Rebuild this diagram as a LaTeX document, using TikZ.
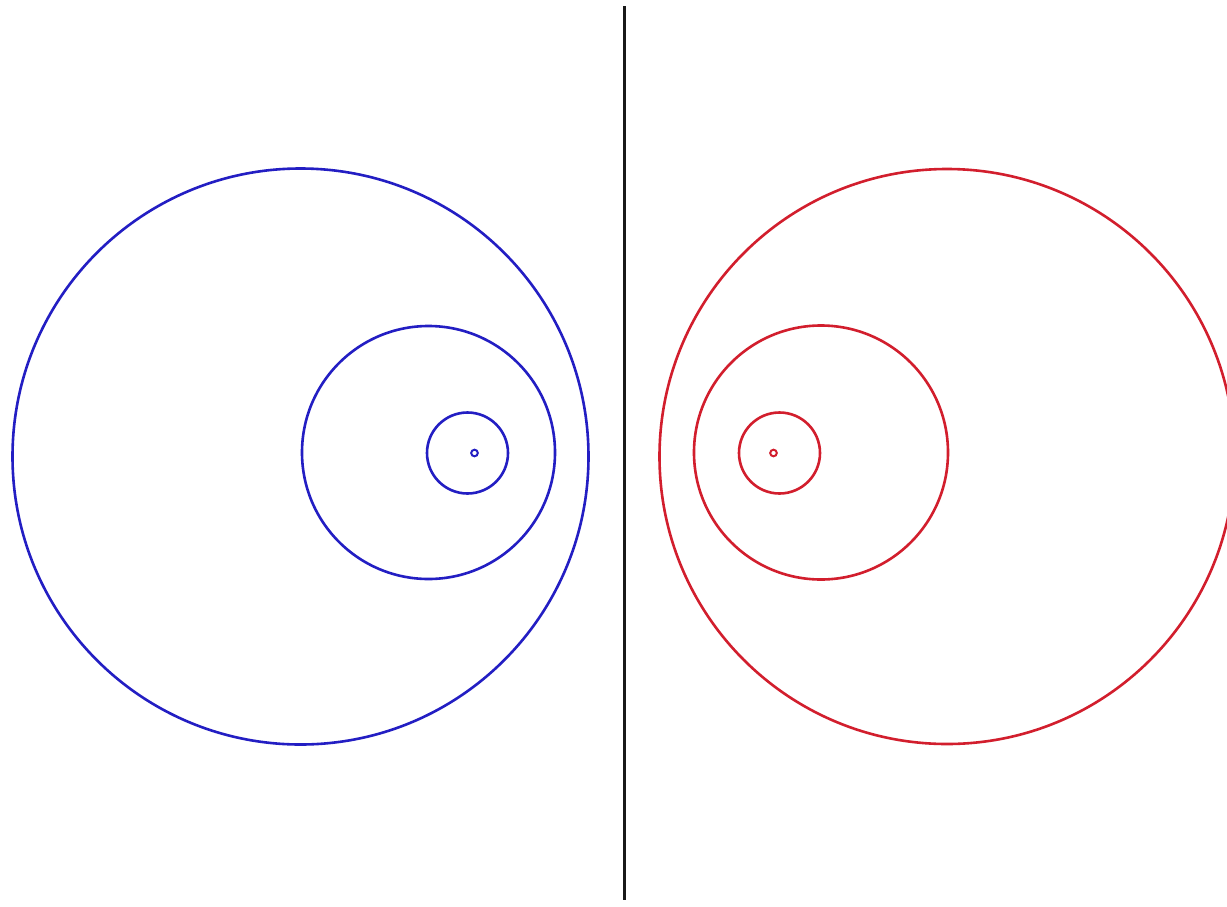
\documentclass[tikz,border=0pt]{standalone}
\definecolor{cblue}{RGB}{35,30,195}
\definecolor{cred}{RGB}{210,30,45}
\tikzset{
  bluering/.style={draw=cblue, line width=2.6pt},
  redring/.style={draw=cred, line width=2.6pt},
  divider/.style={draw=black!90, line width=3pt}
}
\begin{document}
\begin{tikzpicture}[x=1pt,y=-1pt]
\useasboundingbox (0,0) rectangle (1227,906);
\clip (0,0) rectangle (1227,906);
\fill[white] (0,0) rectangle (1227,906);
% divider
\draw[divider] (624,6) -- (624,900);
% left (blue)
\draw[bluering] (300.5,456.5) circle (288);
\draw[bluering] (428.5,452.5) circle (126.5);
\draw[bluering] (467.5,453) circle (40.5);
\draw[bluering, line width=2pt] (474.5,453) circle (3.3);
% right (red)
\draw[redring] (947,456.5) circle (287.5);
\draw[redring] (821,452.5) circle (127);
\draw[redring] (779.5,453) circle (40.5);
\draw[redring, line width=2pt] (773.5,453) circle (3.3);
\end{tikzpicture}
\end{document}
